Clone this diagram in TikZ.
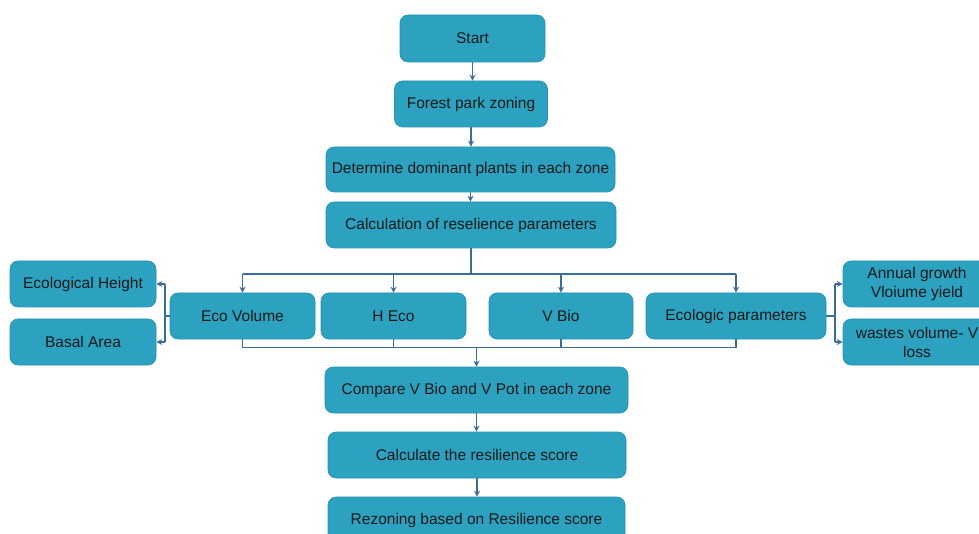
\documentclass[tikz,border=0pt]{standalone}
\usepackage{fontspec}
\setmainfont{Liberation Sans}
\usetikzlibrary{arrows.meta}
\definecolor{boxfill}{RGB}{44,162,192}
\definecolor{boxline}{RGB}{38,146,176}
\definecolor{conn}{RGB}{58,110,154}
\definecolor{txt}{RGB}{25,25,25}
\begin{document}
\begin{tikzpicture}[x=1pt,y=-1pt,
  box/.style={draw=boxline,line width=0.6pt,fill=boxfill,rounded corners=8pt,
    minimum height=46pt,inner sep=2pt,align=center,text=txt,
    font=\fontsize{15.5}{19}\selectfont},
  line/.style={draw=conn,line width=1.1pt},
  arr/.style={line,-{Stealth[length=6pt,width=6pt]}}]
\useasboundingbox (0,0) rectangle (979,534);
\clip (0,0) rectangle (979,534);
\fill[white] (0,0) rectangle (979,534);
\node[box,minimum width=145pt,minimum height=47pt] (start) at (472.5,38.5) {Start};
\node[box,minimum width=153pt] (zone) at (471,104) {Forest park zoning};
\node[box,minimum width=289pt,minimum height=45pt] (dom) at (470.5,169.5) {Determine dominant plants in each zone};
\node[box,minimum width=290pt] (calc) at (471,225) {Calculation of reselience parameters};
\node[box,minimum width=145pt] (eco) at (242.5,316) {Eco Volume};
\node[box,minimum width=145pt] (heco) at (393.5,316) {H Eco};
\node[box,minimum width=144pt] (vbio) at (561,316) {V Bio};
\node[box,minimum width=180pt] (ecop) at (736,316) {Ecologic parameters};
\node[box,minimum width=146pt] (eh) at (83,284) {Ecological Height};
\node[box,minimum width=146pt] (ba) at (83,342) {Basal Area};
\node[box,minimum width=148pt] (ag) at (917,284) {Annual growth\\Vloiume yield};
\node[box,minimum width=148pt] (wv) at (917,342) {wastes volume- V\\loss};
\node[box,minimum width=303pt] (comp) at (476.5,390) {Compare V Bio and V Pot in each zone};
\node[box,minimum width=298pt] (cs) at (477,455) {Calculate the resilience score};
\node[box,minimum width=297pt] (rz) at (476.5,520) {Rezoning based on Resilience score};
\coordinate (busT) at (0,274);
\coordinate (busB) at (0,347.5);
\coordinate (L) at (165,0);
\coordinate (R) at (835,0);
% vertical chain
\draw[arr] (start.south) -- (start.south |- zone.north);
\draw[arr] (zone.south) -- (zone.south |- dom.north);
\draw[arr] (dom.south) -- (dom.south |- calc.north);
% top bus
\draw[line] (calc.south) -- (calc.south |- busT);
\draw[line] (eco.north |- busT) -- (ecop.north |- busT);
\draw[arr] (eco.north |- busT) -- (eco.north);
\draw[arr] (heco.north |- busT) -- (heco.north);
\draw[arr] (vbio.north |- busT) -- (vbio.north);
\draw[arr] (ecop.north |- busT) -- (ecop.north);
% bottom bus
\draw[line] (eco.south) -- (eco.south |- busB);
\draw[line] (heco.south) -- (heco.south |- busB);
\draw[line] (vbio.south) -- (vbio.south |- busB);
\draw[line] (ecop.south) -- (ecop.south |- busB);
\draw[line] (eco.south |- busB) -- (ecop.south |- busB);
\draw[arr] (comp.north |- busB) -- (comp.north);
\draw[arr] (comp.south) -- (comp.south |- cs.north);
\draw[arr] (cs.south) -- (cs.south |- rz.north);
% left branch
\draw[line] (eco.west) -- (eco.west -| L);
\draw[line] (L |- eh.east) -- (L |- ba.east);
\draw[arr] (L |- eh.east) -- (eh.east);
\draw[arr] (L |- ba.east) -- (ba.east);
% right branch
\draw[line] (ecop.east) -- (ecop.east -| R);
\draw[line] (R |- ag.west) -- (R |- wv.west);
\draw[arr] (R |- ag.west) -- (ag.west);
\draw[arr] (R |- wv.west) -- (wv.west);
\end{tikzpicture}
\end{document}
